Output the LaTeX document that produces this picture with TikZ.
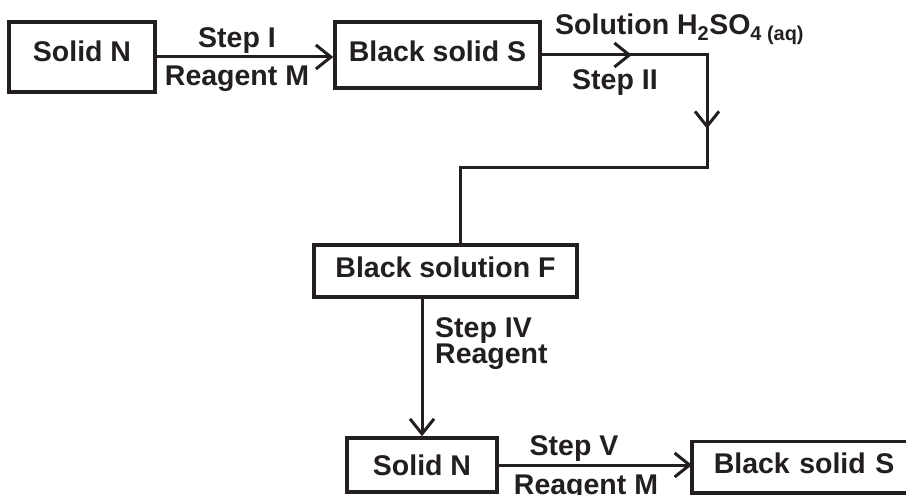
\documentclass[tikz,border=0pt]{standalone}
\usepackage{fontspec}
\setmainfont{Liberation Sans}
\usetikzlibrary{arrows.meta,decorations.markings}
\definecolor{ink}{RGB}{35,31,32}
\begin{document}
\begin{tikzpicture}[x=1pt,y=-1pt,
  >={Straight Barb[length=15pt,width=24pt]},
  txt/.style={font=\bfseries\fontsize{28.5}{32}\selectfont, text=ink},
  box/.style={txt, draw=ink, line width=3.5pt, inner sep=0pt, text height=20pt, align=center},
  lbl/.style={txt, inner sep=0pt},
  conn/.style={draw=ink, line width=3pt}]
\useasboundingbox (0,0) rectangle (906,495);
% boxes
\node[box, minimum width=146pt, minimum height=70pt, text depth=10pt] (B1) at (82,57) {Solid N};
\node[box, minimum width=205pt, minimum height=66pt, text depth=6pt] (B2) at (437.5,55) {Black solid S};
\node[box, minimum width=263pt, minimum height=52pt, text depth=8pt] (B3) at (445.5,271) {Black solution F};
\node[box, minimum width=150pt, minimum height=54pt, text depth=0pt] (B4) at (422,465) {Solid N};
\node[box, draw=none, anchor=west, minimum width=214pt, text width=214pt, align=left, minimum height=48pt, text depth=8pt, inner xsep=0pt] (B5) at (712,467) {Black solid S};
\draw[ink, line width=3.5pt] (B5.north east) -- (B5.north -| 692,0) -- (B5.south -| 692,0) -- (B5.south east);
% labels
\node[lbl, anchor=base] (s1) at (237,48) {Step I};
\node[lbl, anchor=base] (r1) at (237,85) {Reagent M};
\node[lbl, anchor=base west] (sol) at (555,35) {Solution H\textsubscript{2}SO\textsubscript{4 (aq)}};
\node[lbl, anchor=base west] (s2) at (572,90) {Step II};
\node[lbl, anchor=base west] (s4) at (435,337) {Step IV};
\node[lbl, anchor=base west] (r4) at (435,363) {Reagent};
\node[lbl, anchor=base] (s5) at (574,455) {Step V};
\node[lbl, anchor=base] (r5) at (586,494) {Reagent M};
% connectors
\coordinate (c1) at (707,55);
\coordinate (c2) at (707,167);
\coordinate (c3) at (460,167);
\draw[conn,->] (B1.east) -- (B1.east -| B2.west);
\draw[conn, postaction={decorate}, decoration={markings,
    mark=at position 90pt with {\arrow{>}},
    mark=at position 239pt with {\arrow{>}}}]
  (B2.east) -- (c1) -- (c2) -- (c3) -- (c3 |- B3.north);
\draw[conn,->] (B4.north |- B3.south) -- (B4.north);
\draw[conn,->] (B4.east) -- (B4.east -| 692,0);
\end{tikzpicture}
\end{document}
